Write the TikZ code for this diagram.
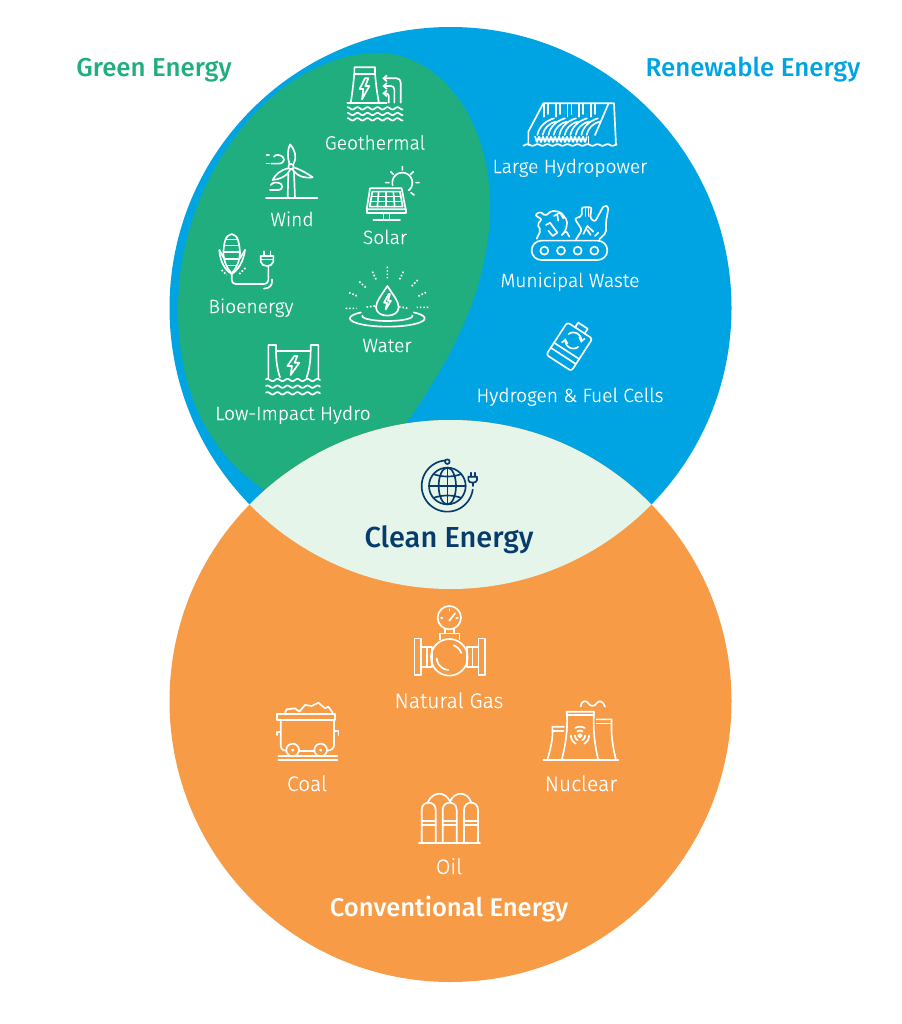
\documentclass[tikz,border=0pt]{standalone}
\usepackage{fontspec}
\setmainfont{Fira Sans}[UprightFont={* Light},UprightFeatures={FakeBold=0.25},BoldFont={* Medium}]
\usetikzlibrary{arrows.meta}
\definecolor{bluec}{HTML}{00A4E2}
\definecolor{greenc}{HTML}{21AE7E}
\definecolor{orangec}{HTML}{F79B47}
\definecolor{lensc}{HTML}{E5F5EA}
\definecolor{navyc}{HTML}{063C6B}
\tikzset{
 ic/.style={draw=white,line width=1.25pt,line join=round,line cap=round},
 nv/.style={draw=navyc,line width=1.25pt,line join=round,line cap=round},
 dots/.style={draw=white,line width=1.25pt,dash pattern=on 1.2pt off 1.4pt},
 arw/.style={-{Straight Barb[length=2.5pt,width=4.5pt]}},
 lab/.style={text=white,font=\fontsize{14.4pt}{16pt}\selectfont,anchor=base,inner sep=0pt},
 labo/.style={lab,font=\fontsize{15.8pt}{18pt}\selectfont},
 ttl/.style={font=\fontsize{19.4pt}{22pt}\selectfont\bfseries,anchor=base,inner sep=0pt},
 za/.style={shift={(200,50)},scale=0.33333},
 zb/.style={shift={(200,230)},scale=0.33333},
 zc/.style={shift={(480,90)},scale=0.33333},
 zd/.style={shift={(360,450)},scale=0.33333},
 ze/.style={shift={(260,690)},scale=0.33333}
}
\newcommand\wavy[4]{\draw[ic] plot[domain=#1:#2,samples=70,smooth,variable=\t] (\t,{#3+#4*sin(\t*12)});}
\newcommand\parc[6]{\draw[#6] plot[domain=#4:#5,samples=40,smooth,variable=\t] ({#1+#3*cos(\t)},{#2+#3*sin(\t)});}
\newcommand\pell[7]{\draw[#7] plot[domain=#5:#6,samples=50,smooth,variable=\t] ({#1+#3*cos(\t)},{#2+#4*sin(\t)});}
\begin{document}
\begin{tikzpicture}[x=0.75pt,y=-0.75pt]
\useasboundingbox (0,0) rectangle (901,1024);
\fill[white] (0,0) rectangle (901,1024);
% discs
\fill[bluec] (450.5,308) circle (281);
\fill[greenc] (378,53) .. controls (440,53) and (490,120) .. (490,205)
  .. controls (490,290) and (450,360) .. (405,425) -- (300,520)
  -- (262,488) .. controls (205,450) and (178,385) .. (178,310)
  .. controls (178,170) and (280,53) .. cycle;
\fill[orangec] (450.5,701) circle (281);
\begin{scope}
 \clip (450.5,701) circle (281);
 \fill[lensc] (450.5,308) circle (281);
\end{scope}
% titles
\node[ttl,text=greenc] (tgreen) at (154,76) {Green Energy};
\node[ttl,text=bluec] (trenew) at (753,76) {Renewable Energy};
\node[ttl,text=navyc,font=\fontsize{21.7pt}{24pt}\selectfont\bfseries] (tclean) at (449,547) {Clean Energy};
\node[ttl,text=white,font=\fontsize{19.2pt}{22pt}\selectfont\bfseries] (tconv) at (449,916) {Conventional Energy};
% labels
\node[lab] (lgeo) at (375,149.5) {Geothermal};
\node[lab] (lwind) at (292,226) {Wind};
\node[lab] (lsolar) at (385,244) {Solar};
\node[lab] (lbio) at (251,313) {Bioenergy};
\node[lab] (lwater) at (387,352) {Water};
\node[lab] (llow) at (293,420) {Low-Impact Hydro};
\node[lab] (llarge) at (570,173) {Large Hydropower};
\node[lab] (lmuni) at (570,287) {Municipal Waste};
\node[lab] (lhyd) at (570,402) {Hydrogen \& Fuel Cells};
\node[labo] (lgas) at (449,708) {Natural Gas};
\node[labo] (lcoal) at (307,791) {Coal};
\node[labo] (lnuc) at (581,791) {Nuclear};
\node[labo] (loil) at (449,874) {Oil};
% upper-left icons
\begin{scope}[za]
 % geothermal
 \draw[ic] (442,160)--(560,160);
 \draw[ic] (452,160) .. controls (458,120) .. (463,72) -- (463,52) -- (525,52) -- (525,72) .. controls (530,120) .. (537,160);
 \draw[ic] (463,72)--(525,72);
 \draw[ic] (495,85)--(479,117)--(490,117)--(486,148)--(508,108)--(496,108)--(505,85)--cycle;
 \draw[ic,arw,rounded corners=3pt] (602,158)--(602,85)--(547,85);
 \draw[ic,arw,rounded corners=2.5pt] (583,158)--(583,108)--(547,108);
 \draw[ic,arw,rounded corners=2pt] (566,158)--(566,130)--(547,130);
 \wavy{443}{608}{175}{3.5}
 \wavy{443}{608}{192}{3.5}
 \wavy{443}{608}{208}{3.5}
 % wind
 \draw[ic] (198,444)--(352,444);
 \draw[ic] (265,367)--(263,444);
 \draw[ic] (282,367)--(285,444);
 \draw[ic] (273,350) circle (8);
 \draw[ic] (268,341) .. controls (262,320) and (262,300) .. (270,283) .. controls (285,300) and (292,320) .. (280,343);
 \draw[ic] (265,355) .. controls (240,360) and (225,375) .. (218,390) .. controls (240,388) and (262,378) .. (270,360);
 \draw[ic] (281,352) .. controls (300,358) and (325,372) .. (338,382) .. controls (315,385) and (295,382) .. (277,358);
 \draw[ic] (200,316)--(207,316);
 \draw[ic] (200,341)--(207,341);
 \draw[ic] (214,341)--(235,341) .. controls (258,341) and (258,318) .. (235,315) .. controls (228,314) and (224,316) .. (222,320);
 \draw[ic] (210,420)--(232,420) .. controls (252,420) and (252,400) .. (232,398) .. controls (222,397) and (214,400) .. (212,405);
 % solar
 \parc{607}{398}{30}{165}{410}{ic}
 \draw[ic] (510,415)--(605,415)--(617,478)--(500,478)--cycle;
 \draw[ic] (500,478)--(500,490)--(617,490)--(617,478);
 \draw[ic] (517,425)--(600,425)--(608,470)--(509,470)--cycle;
 \draw[ic] (514,440)--(603,440) (511,455)--(606,455);
 \draw[ic] (536,425)--(532,470) (558,425)--(558,470) (580,425)--(584,470);
 \draw[ic] (550,490)--(550,510) (568,490)--(568,510) (520,510)--(600,510);
 \draw[ic] (607,350)--(607,360) (640,365)--(632,373) (648,398)--(657,398) (633,428)--(642,435) (572,365)--(580,373) (557,398)--(567,398);
\end{scope}
\begin{scope}[zb]
 % bioenergy
 \draw[ic] (95,12) .. controls (75,15) and (72,40) .. (70,70) .. controls (72,100) and (85,120) .. (95,130) .. controls (105,120) and (118,100) .. (120,70) .. controls (118,40) and (115,15) .. (95,12);
 \draw[ic] (80,28)--(110,28) (73,46)--(117,46) (71,66)--(119,66) (75,86)--(115,86) (84,106)--(106,106);
 \draw[ic] (58,60) .. controls (60,95) and (75,120) .. (95,132) .. controls (115,120) and (130,95) .. (135,60);
 \draw[ic] (58,60)--(72,85) (135,60)--(120,85);
 \draw[dots] (65,120)--(80,135) (118,132)--(138,112);
 \draw[ic,rounded corners=3pt] (95,132)--(95,162)--(205,162)--(205,110);
 \draw[ic] (182,78)--(220,78) (182,88)--(220,88);
 \draw[ic] (182,78)--(182,95) .. controls (184,104) and (192,108) .. (201,108) .. controls (210,108) and (218,104) .. (220,95)--(220,78);
 \draw[ic] (192,64)--(192,78) (211,64)--(211,78);
 \draw[ic] (216,148) .. controls (218,165) and (210,175) .. (192,176);
 % water
 \draw[ic] (562,168) .. controls (545,195) and (528,215) .. (528,232) .. controls (528,248) and (545,257) .. (562,257) .. controls (580,257) and (596,248) .. (596,232) .. controls (596,215) and (580,195) .. cycle;
 \draw[ic] (566,192)--(552,218)--(561,218)--(557,238)--(573,212)--(564,212)--(570,192)--cycle;
 \pell{562}{265}{112}{25}{-45}{225}{ic}
 \pell{562}{258}{75}{15}{-5}{185}{ic}
 \draw[dots] (562,110)--(562,145) (517,125)--(530,152) (610,125)--(597,152) (478,155)--(500,175) (653,150)--(632,172) (447,188)--(472,198) (678,187)--(652,200) (437,235)--(470,235) (685,232)--(650,232) (525,228)--(495,232) (597,230)--(625,235);
 % low impact hydro
 \draw[ic] (205,445)--(205,345)--(228,345)--(228,362) .. controls (228,390) and (232,420) .. (240,442);
 \draw[ic] (355,445)--(355,345)--(332,345)--(332,362) .. controls (332,390) and (328,420) .. (320,442);
 \draw[ic] (228,362)--(332,362);
 \draw[ic] (283,378)--(262,408)--(276,408)--(272,435)--(298,398)--(284,398)--(292,378)--cycle;
 \wavy{198}{360}{450}{3.5}
 \wavy{198}{360}{470}{3.5}
 \wavy{198}{360}{490}{3.5}
\end{scope}
\begin{scope}[zc]
 % large hydropower
 \draw[ic] (145,165)--(145,125)--(190,40)--(402,40)--(408,165);
 \draw[ic] (385,42)--(345,135);
 \foreach \a in {0,...,4}{
  \draw[ic] ({192+\a*35},42)--({192+\a*35},80);
  \draw[ic] ({204+\a*35},42)--({204+\a*35},72);
  \draw[ic] ({172+\a*33},135) .. controls ({178+\a*33},108) and ({198+\a*33},92) .. ({222+\a*33},85);
  \draw[ic] ({188+\a*33},135) .. controls ({192+\a*33},115) and ({206+\a*33},100) .. ({228+\a*33},95);
 }
 \draw[ic] plot[domain=165:320,samples=70,smooth,variable=\t] (\t,{148+8*sin(\t*30)});
 \draw[ic] (325,140)--(325,162);
 \wavy{130}{410}{165}{2.5}
 % municipal waste
 \draw[ic,rounded corners=7.2pt] (155,452) rectangle (382,510);
 \foreach \q in {193,243,293,343}{\draw[ic] (\q,482) circle (12);}
 \draw[ic,rounded corners=1.5pt] (170,446)--(182,422)--(172,402)--(186,388)--(165,376)--(180,364)--(196,378)--(215,362)--(242,366)--(262,392)--(258,420)--(243,438)--(258,422)--(268,440);
 \draw[ic] (222,378)--(240,368)--(250,385) (232,376)--(235,392);
 \draw[ic] (198,405)--(210,398)--(232,428)--(218,438)--(205,422);
 \draw[ic,rounded corners=1.5pt] (288,448)--(306,420)--(284,386)--(306,378)--(305,352)--(335,352)--(330,385)--(345,395)--(372,346)--(386,350)--(378,395)--(378,428)--(358,448);
 \draw[ic] (316,355)--(316,378) (325,355)--(325,378);
 \draw[ic] (310,432)--(322,408)--(340,425) (322,420)--(332,435) (345,438)--(355,428);
 % battery
 \begin{scope}[shift={(268,770)},rotate=-33]
  \draw[ic,rounded corners=2pt] (-45,-58) rectangle (45,58);
  \draw[ic] (-17,-58)--(-17,-75)--(17,-75)--(17,-58);
  \draw[ic] (-45,15)--(45,15) (-45,33)--(45,33);
  \parc{0}{-22}{24}{200}{340}{ic,arw}
  \parc{0}{-22}{24}{20}{160}{ic,arw}
 \end{scope}
\end{scope}
\begin{scope}[zd]
 % globe
 \draw[nv] (262,108) circle (55);
 \draw[nv] (262,108) ellipse [x radius=26,y radius=55];
 \draw[nv] (262,53)--(262,163) (207,108)--(317,108);
 \draw[nv] (220,72) .. controls (245,82) and (280,82) .. (304,72);
 \draw[nv] (220,144) .. controls (245,134) and (280,134) .. (304,144);
 \draw[nv] (262,35) circle (7);
 \parc{262}{108}{77}{265}{8}{nv}
 \draw[nv] (339,108)--(339,98);
 \draw[nv] (325,80)--(351,80)--(351,90) .. controls (351,95) and (345,98) .. (338,98) .. controls (331,98) and (325,95) .. (325,90)--cycle;
 \draw[nv] (332,68)--(332,80) (345,68)--(345,80);
 % natural gas
 \draw[ic] (268,622) circle (55);
 \parc{268}{622}{38}{95}{175}{ic}
 \parc{268}{622}{38}{-70}{-20}{ic}
 \draw[ic] (268,503) circle (35);
 \draw[ic] (268,512)--(285,490);
 \draw[ic] (268,478)--(268,482) (243,503)--(247,503) (293,503)--(289,503);
 \draw[ic] (255,538)--(255,550) (282,538)--(282,550);
 \draw[ic] (240,568)--(240,550)--(298,550)--(298,568);
 \draw[ic] (163,565) rectangle (183,675);
 \draw[ic] (355,565) rectangle (375,675);
 \draw[ic] (183,590)--(216,590)--(216,650)--(183,650) (200,590)--(200,650);
 \draw[ic] (355,590)--(320,590)--(320,650)--(355,650) (337,590)--(337,650);
\end{scope}
\begin{scope}[ze]
 % coal
 \draw[ic] (50,72)--(225,72)--(225,90)--(50,90)--cycle;
 \draw[ic] (62,90)--(62,165) .. controls (62,175) and (68,182) .. (78,182);
 \draw[ic] (117,182)--(163,182);
 \draw[ic] (222,90)--(222,165) .. controls (222,175) and (214,182) .. (201,182);
 \draw[ic] (98,180) circle (19) (182,180) circle (19);
 \draw[ic] (98,180) circle (2) (182,180) circle (2);
 \draw[ic] (55,198)--(232,198) (55,210)--(232,210);
 \draw[ic] (75,68)--(80,58)--(105,55)--(118,65)--(135,45)--(155,48)--(175,38)--(195,55)--(205,50)--(218,68);
 \draw[ic] (62,125)--(50,125)--(50,135) (222,122)--(235,122)--(235,135);
 % nuclear
 \draw[ic] (850,210)--(1075,210);
 \draw[ic] (905,210) .. controls (915,170) and (925,120) .. (920,65) -- (1002,65) .. controls (998,120) and (1005,170) .. (1015,210);
 \draw[ic] (920,75)--(1002,75);
 \draw[ic] (862,210) .. controls (870,180) and (880,150) .. (877,110)--(912,110);
 \draw[ic] (877,122)--(910,122);
 \draw[ic] (1010,88)--(1055,88) .. controls (1052,130) and (1058,170) .. (1068,210);
 \draw[ic] (1010,100)--(1053,100);
 \draw[ic] (962,50) .. controls (964,30) and (980,30) .. (985,40) .. controls (990,50) and (1005,50) .. (1010,40) .. controls (1015,30) and (1030,32) .. (1035,50);
 \draw[ic] (960,137) circle (5);
 \foreach \c in {270,30,150}{
  \parc{960}{137}{15}{\c-32}{\c+32}{ic}
  \parc{960}{137}{27}{\c-32}{\c+32}{ic}
 }
 % oil
 \draw[ic] (477,458)--(660,458);
 \foreach \u in {485,548,612}{
  \draw[ic] (\u,458)--(\u,360) .. controls (\u,345) and ({\u+10},338) .. ({\u+21},338) .. controls ({\u+32},338) and ({\u+42},345) .. ({\u+42},360)--({\u+42},458);
  \draw[ic] (\u,392)--({\u+42},392) (\u,405)--({\u+42},405);
 }
 \draw[ic] (503,338) .. controls (510,320) and (525,311) .. (538,311) .. controls (552,311) and (565,322) .. (570,335) .. controls (575,322) and (588,311) .. (602,311) .. controls (615,311) and (628,320) .. (634,338);
\end{scope}
\end{tikzpicture}
\end{document}
